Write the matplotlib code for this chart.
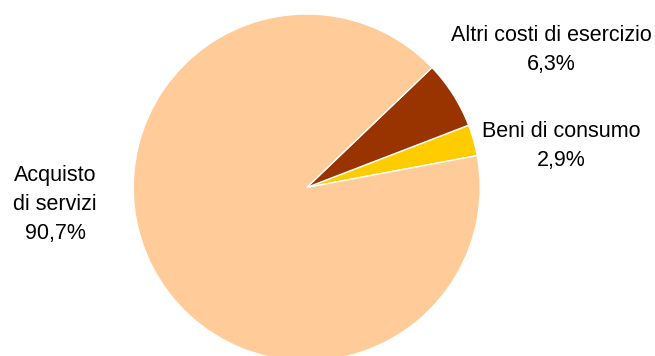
import matplotlib
matplotlib.use("Agg")
import matplotlib.pyplot as plt

categories = ["Beni di consumo", "Altri costi di esercizio", "Acquisto\ndi servizi"]
values = [2.9, 6.3, 90.7]
labels = ["Beni di consumo\n2,9%", "Altri costi di esercizio\n6,3%", "Acquisto\ndi servizi\n90,7%"]
colors = ["#FFCC00", "#993300", "#FFCC99"]

W, H = 655, 356
fig = plt.figure(figsize=(W / 100, H / 100), dpi=100)
cx, cy, r = 306.7, 187.5, 173.5
ax = fig.add_axes([(cx - r) / W, (H - cy - r) / H, 2 * r / W, 2 * r / H])
wedges, _ = ax.pie(values, colors=colors, startangle=10.6, counterclock=True,
                   normalize=True, radius=1.0,
                   wedgeprops=dict(edgecolor="white", linewidth=1.0))
for w in wedges:
    w.set_clip_on(False)
ax.set_xlim(-1, 1)
ax.set_ylim(-1, 1)
ax.axis("off")

font = dict(family=["Liberation Sans", "DejaVu Sans"], fontsize=15.5, color="black",
            ha="center", va="center", multialignment="center", linespacing=1.5)
pos = [(561, 146), (551, 50), (55, 205)]
for lab, (x, y) in zip(labels, pos):
    fig.text(x / W, 1 - y / H, lab, **font)

fig.savefig("out.png", dpi=100, facecolor="white")
